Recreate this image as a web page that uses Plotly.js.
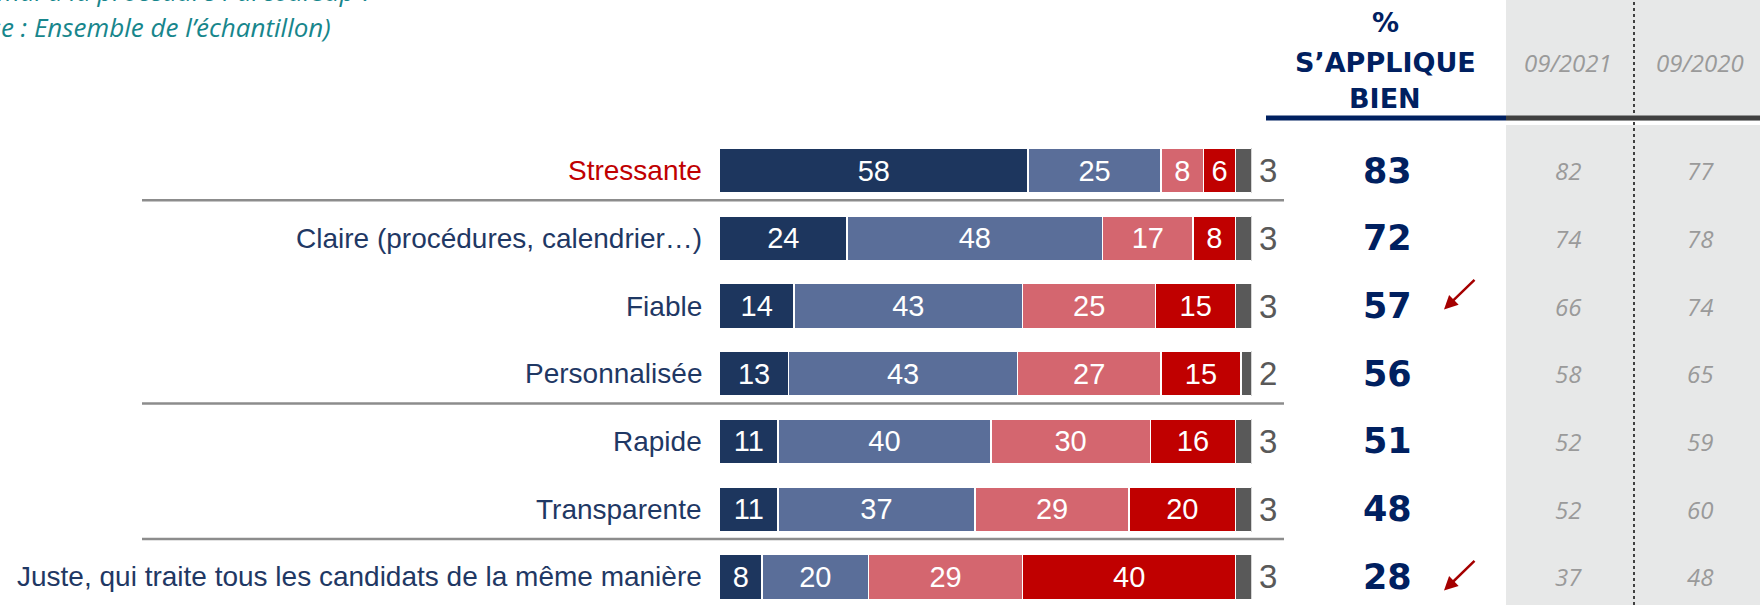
<!DOCTYPE html>
<html>
<head>
<meta charset="utf-8">
<script src="https://cdn.plot.ly/plotly-3.0.1.min.js"></script>
<style>
  html, body { margin: 0; padding: 0; background: #ffffff; }
  #chart { width: 1760px; height: 605px; }
</style>
</head>
<body>
<div id="chart"></div>
<script>
// ---------------- DATA ----------------
const categories = [
  'Stressante',
  'Claire (procédures, calendrier…)',
  'Fiable',
  'Personnalisée',
  'Rapide',
  'Transparente',
  'Juste, qui traite tous les candidats de la même manière'
];
const highlighted = [true, false, false, false, false, false, false];
const tresBien   = [58, 24, 14, 13, 11, 11, 8];
const plutotBien = [25, 48, 43, 43, 40, 37, 20];
const plutotMal  = [8, 17, 25, 27, 30, 29, 29];
const tresMal    = [6, 8, 15, 15, 16, 20, 40];
const nsp        = [3, 3, 3, 2, 3, 3, 3];
const sappliqueBien = [83, 72, 57, 56, 51, 48, 28];
const wave2021 = [82, 74, 66, 58, 52, 52, 37];
const wave2020 = [77, 78, 74, 65, 59, 60, 48];
const waveLabels = ['09/2021', '09/2020'];
const trend = [null, null, 'down', null, null, null, 'down'];
const groupBreaks = [0.5, 3.5, 5.5];
const headerLines = ['%', 'S’APPLIQUE', 'BIEN'];
const questionText = 'Diriez-vous que chacun des qualificatifs suivants s’applique bien ou mal à la procédure Parcoursup ?';
const baseText = '(Base : Ensemble de l’échantillon)';

// ---------------- STYLE ----------------
const W = 1760, H = 605;
const px = v => v / W;
const py = v => 1 - v / H;
const NAVY = '#1f3864';
const HEAD = '#002060';
const colors = ['#1d365e', '#5a6e99', '#d4666f', '#c00000', '#595959'];
const labelFont = "'Liberation Sans', Arial, sans-serif";
const heavyFont = "'DejaVu Sans', 'Liberation Sans', Arial, sans-serif";
const italicFont = "'Open Sans', 'Noto Sans', sans-serif";
const y = categories.map((_, i) => i);

const series = [tresBien, plutotBien, plutotMal, tresMal, nsp];
const names = ['S’applique très bien', 'S’applique plutôt bien', 'S’applique plutôt mal', 'S’applique très mal', 'Ne se prononce pas'];

const traces = series.map((vals, k) => ({
  type: 'bar',
  orientation: 'h',
  name: names[k],
  x: vals,
  y: y,
  width: 0.66,
  marker: { color: colors[k], line: { color: '#ffffff', width: 1.5 } },
  text: k < 4 ? vals.map(String) : vals.map(() => ''),
  textposition: 'inside',
  insidetextanchor: 'middle',
  textangle: 0,
  constraintext: 'none',
  insidetextfont: { family: labelFont, size: 29, color: '#ffffff' },
  hoverinfo: 'x+name',
  cliponaxis: false
}));

const annotations = [];
categories.forEach((c, i) => {
  annotations.push({
    xref: 'paper', yref: 'y', x: px(704), y: i, xanchor: 'right', yanchor: 'middle',
    text: c, showarrow: false,
    font: { family: labelFont, size: 28, color: highlighted[i] ? '#c00000' : NAVY }
  });
  annotations.push({
    xref: 'x', yref: 'y', x: 100, y: i, xanchor: 'left', yanchor: 'middle', xshift: 5,
    text: String(nsp[i]), showarrow: false,
    font: { family: labelFont, size: 33, color: '#595959' }
  });
  annotations.push({
    xref: 'paper', yref: 'y', x: px(1387), y: i, xanchor: 'center', yanchor: 'middle',
    text: String(sappliqueBien[i]), showarrow: false,
    font: { family: heavyFont, size: 35, color: HEAD, weight: 'bold' }
  });
  [wave2021, wave2020].forEach((arr, w) => {
    annotations.push({
      xref: 'paper', yref: 'y', x: px(w === 0 ? 1568 : 1700), y: i, xanchor: 'center', yanchor: 'middle',
      text: String(arr[i]), showarrow: false,
      font: { family: italicFont, size: 24, color: '#9a9a9a', style: 'italic' }
    });
  });
  if (trend[i] === 'down') {
    annotations.push({
      xref: 'paper', yref: 'y', x: px(1444), y: i + (i === categories.length - 1 ? 0.2 : 0.05),
      axref: 'pixel', ayref: 'pixel',
      ax: 32, ay: -31, text: '', showarrow: true,
      arrowhead: 2, arrowsize: 1.1, arrowwidth: 2.5, arrowcolor: '#a50000'
    });
  }
});
const headerY = [22, 62, 99];
headerLines.forEach((t, j) => {
  annotations.push({
    xref: 'paper', yref: 'paper', x: px(1385), y: py(headerY[j]), xanchor: 'center', yanchor: 'middle',
    text: t, showarrow: false,
    font: { family: heavyFont, size: 27, color: HEAD, weight: 'bold' }
  });
});
waveLabels.forEach((t, w) => {
  annotations.push({
    xref: 'paper', yref: 'paper', x: px(w === 0 ? 1568 : 1700), y: py(62), xanchor: 'center', yanchor: 'middle',
    text: t, showarrow: false,
    font: { family: italicFont, size: 24, color: '#9a9a9a', style: 'italic' }
  });
});
annotations.push({
  xref: 'paper', yref: 'paper', x: px(376), y: py(-9), xanchor: 'right', yanchor: 'middle',
  text: questionText, showarrow: false,
  font: { family: italicFont, size: 26, color: '#17868c', style: 'italic' }
});
annotations.push({
  xref: 'paper', yref: 'paper', x: px(333), y: py(27), xanchor: 'right', yanchor: 'middle',
  text: baseText, showarrow: false,
  font: { family: italicFont, size: 26, color: '#17868c', style: 'italic' }
});

const shapes = [
  { type: 'rect', xref: 'paper', yref: 'paper', x0: px(1506), x1: 1, y0: 0, y1: 1, fillcolor: '#e7e8e8', line: { width: 0 }, layer: 'below' },
  { type: 'rect', xref: 'paper', yref: 'paper', x0: px(1506), x1: 1, y0: py(125), y1: py(121), fillcolor: '#ffffff', line: { width: 0 }, layer: 'below' },
  { type: 'line', xref: 'paper', yref: 'paper', x0: px(1634), x1: px(1634), y0: 0, y1: 1, line: { color: '#404040', width: 2, dash: 'dot' } },
  { type: 'line', xref: 'paper', yref: 'paper', x0: px(1266), x1: px(1506), y0: py(118), y1: py(118), line: { color: HEAD, width: 5 } },
  { type: 'line', xref: 'paper', yref: 'paper', x0: px(1506), x1: 1, y0: py(118), y1: py(118), line: { color: '#404040', width: 5 } }
];
groupBreaks.forEach(b => {
  shapes.push({ type: 'line', xref: 'paper', yref: 'y', x0: px(142), x1: px(1284), y0: b - 0.06, y1: b - 0.06, line: { color: '#8c8c8c', width: 2.5 } });
});

const layout = {
  width: W, height: H,
  margin: { l: 0, r: 0, t: 0, b: 0, pad: 0 },
  paper_bgcolor: '#ffffff', plot_bgcolor: 'rgba(0,0,0,0)',
  barmode: 'stack',
  bargap: 0,
  showlegend: false,
  xaxis: { domain: [px(719.5), px(1251.5)], range: [0, 100], visible: false, fixedrange: true },
  yaxis: { domain: [0, py(136.7)], range: [6.414, -0.5], visible: false, fixedrange: true },
  annotations: annotations,
  shapes: shapes
};

Plotly.newPlot('chart', traces, layout, { displayModeBar: false, staticPlot: true });
</script>
</body>
</html>
